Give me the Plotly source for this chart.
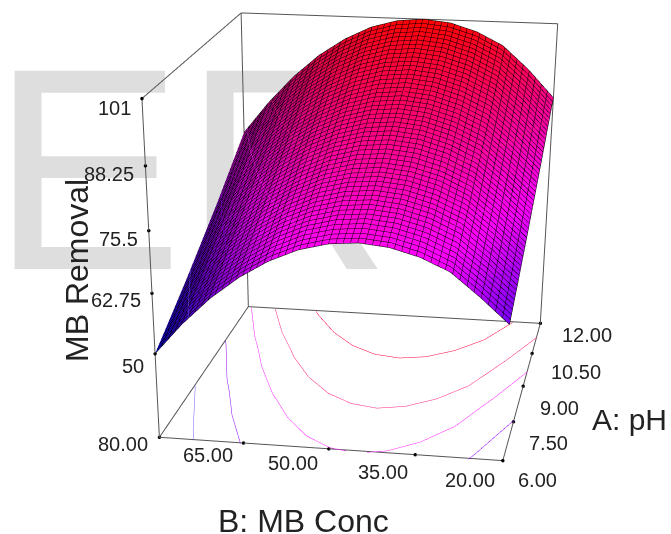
import plotly.graph_objects as go

ph_vals = [6, 7, 8, 9, 10, 11, 12]
conc_vals = [80, 75, 70, 65, 60, 55, 50, 45, 40, 35, 30, 25, 20]
removal = [
    [50.0, 56.7, 62.4, 67.0, 70.6, 73.2, 74.7, 75.2, 74.6, 73.0, 70.4, 65.7, 60.5],
    [53.6, 60.4, 66.2, 70.8, 74.5, 77.1, 78.6, 79.1, 78.5, 76.9, 74.2, 69.5, 64.2],
    [57.3, 64.2, 70.0, 74.8, 78.4, 81.1, 82.6, 83.1, 82.5, 80.9, 78.2, 73.4, 68.1],
    [61.3, 68.3, 74.2, 79.0, 82.7, 85.3, 86.9, 87.4, 86.8, 85.1, 82.4, 77.6, 72.2],
    [65.3, 72.4, 78.3, 83.2, 86.9, 89.6, 91.2, 91.7, 91.1, 89.4, 86.7, 81.8, 76.3],
    [69.7, 76.8, 82.8, 87.7, 91.5, 94.2, 95.8, 96.3, 95.7, 94.0, 91.2, 86.3, 80.6],
    [74.1, 81.2, 87.3, 92.3, 96.1, 98.9, 100.5, 101.0, 100.4, 98.7, 95.9, 90.9, 84.9],
]
ph_ticks = [6, 7.5, 9, 10.5, 12]
conc_ticks = [80, 65, 50, 35, 20]
z_ticks = [50, 62.75, 75.5, 88.25, 101]
contour_levels = [58, 66.5, 75, 82, 91.5]
contour_colors = ["#7060ff", "#9000ff", "#ff20ff", "#ff2080", "#ff0040"]
z_floor = 31.64
z_top = 101

conc_label_dx = [-36, -36, -36, -32, -33]
conc_label_dy = [-7, -12, -14, -17, -19]
ph_label_dx = [35, 35, 36, 44, 47]
ph_label_dy = [-19, -21, -22, -19, -12]
z_label_dy = [-12, -7, -8, -8, -9]

WIN_W, WIN_H, FIG_H = 671, 534, 1600
FONT = "Liberation Sans"
TEXT = "#222222"
z_table = [list(col) for col in zip(*removal)]

fig = go.Figure()
fig.add_trace(go.Scatter(x=[-9], y=[337], mode="text", text=["ER"], textposition="middle right",
                         textfont=dict(size=288, color="#dedede", family=FONT),
                         hoverinfo="skip", showlegend=False))
fig.add_trace(go.Surface(
    x=ph_vals, y=conc_vals, z=z_table, showscale=False, cmin=50, cmax=101,
    colorscale=[[0, "#0000ff"], [0.44, "#ff00ff"], [1, "#ff0000"]],
    lighting=dict(ambient=0.25, diffuse=0.85, specular=0.02, roughness=0.9),
    lightposition=dict(x=-600, y=-600, z=600),
    hoverinfo="skip",
    contours=dict(
        x=dict(show=True, start=6, end=12, size=0.12, color="black", width=1),
        y=dict(show=True, start=20, end=80, size=1.2, color="black", width=1),
    ),
))
for level, color in zip(contour_levels, contour_colors):
    fig.add_trace(go.Surface(
        x=ph_vals, y=conc_vals, z=z_table, showscale=False, hidesurface=True, hoverinfo="skip",
        colorscale=[[0, color], [1, color]],
        contours=dict(z=dict(show=True, start=level, end=level + 0.5, size=1, color=color, width=3,
                             project=dict(z=True))),
    ))
box = [(6, 80, z_floor), (6, 20, z_floor), (12, 20, z_floor), (12, 80, z_floor), (6, 80, z_floor), (6, 80, z_top),
       (12, 80, z_top), (12, 80, z_floor), None, (12, 80, z_top), (12, 20, z_top), (12, 20, z_floor)]
fig.add_trace(go.Scatter3d(x=[b[0] if b else None for b in box], y=[b[1] if b else None for b in box],
                           z=[b[2] if b else None for b in box], mode="lines",
                           line=dict(color="#555555", width=2), hoverinfo="skip", showlegend=False))
fig.add_trace(go.Scatter3d(x=[6] * 5 + ph_ticks + [6] * 5, y=conc_ticks + [20] * 5 + [80] * 5,
                           z=[z_floor] * 10 + z_ticks, mode="markers", marker=dict(size=2, color="black"),
                           hoverinfo="skip", showlegend=False))
ann = []
for t, dx, dy in zip(conc_ticks, conc_label_dx, conc_label_dy):
    ann.append(dict(x=6, y=t, z=z_floor, text=f"{t:.2f}", xshift=dx, yshift=dy))
for t, dx, dy in zip(ph_ticks, ph_label_dx, ph_label_dy):
    ann.append(dict(x=t, y=20, z=z_floor, text=f"{t:.2f}", xshift=dx, yshift=dy))
for t, dy in zip(z_ticks, z_label_dy):
    ann.append(dict(x=6, y=80, z=t, text=f"{t:g}", xanchor="right", xshift=-9, yshift=dy))
for a in ann:
    a.update(showarrow=False, font=dict(size=20, color=TEXT, family=FONT))

plain = dict(showbackground=False, showgrid=False, zeroline=False, showticklabels=False,
             showspikes=False, title="", showline=False, ticks="")
fig.update_layout(
    width=WIN_W, height=FIG_H, margin=dict(l=0, r=0, t=0, b=0), paper_bgcolor="white",
    plot_bgcolor="rgba(0,0,0,0)", showlegend=False,
    xaxis=dict(visible=False, range=[0, WIN_W], fixedrange=True),
    yaxis=dict(visible=False, range=[WIN_H - FIG_H, WIN_H], fixedrange=True),
    scene=dict(
        domain=dict(x=[0, 1], y=[0, 1]), bgcolor="rgba(0,0,0,0)",
        xaxis=dict(range=[5.98, 12.02], **plain), yaxis=dict(range=[19.8, 80.2], **plain),
        zaxis=dict(range=[z_floor - 0.2, z_top + 0.2], **plain),
        aspectmode="manual", aspectratio=dict(x=1, y=0.826, z=0.781),
        camera=dict(eye=dict(x=-4.707, y=-0.768, z=1.340),
                    center=dict(x=-0.463, y=-0.010, z=-1.385),
                    up=dict(x=-0.0074, y=0.0013, z=1)),
        annotations=ann,
    ),
    annotations=[
        dict(x=77, y=263, xref="x", yref="y", text="MB Removal", textangle=-90, showarrow=False,
             font=dict(size=32, color=TEXT, family=FONT)),
        dict(x=303, y=13, xref="x", yref="y", text="B: MB Conc", showarrow=False,
             font=dict(size=32, color=TEXT, family=FONT)),
        dict(x=629, y=115, xref="x", yref="y", text="A: pH", showarrow=False,
             font=dict(size=30, color=TEXT, family=FONT)),
    ],
)
fig.write_html("out.html", config=dict(displayModeBar=False),
               post_script="var s=document.documentElement.style,b=document.body.style;"
                           "s.overflow='hidden';s.height='534px';b.margin='0';b.overflow='hidden';b.height='534px';")
